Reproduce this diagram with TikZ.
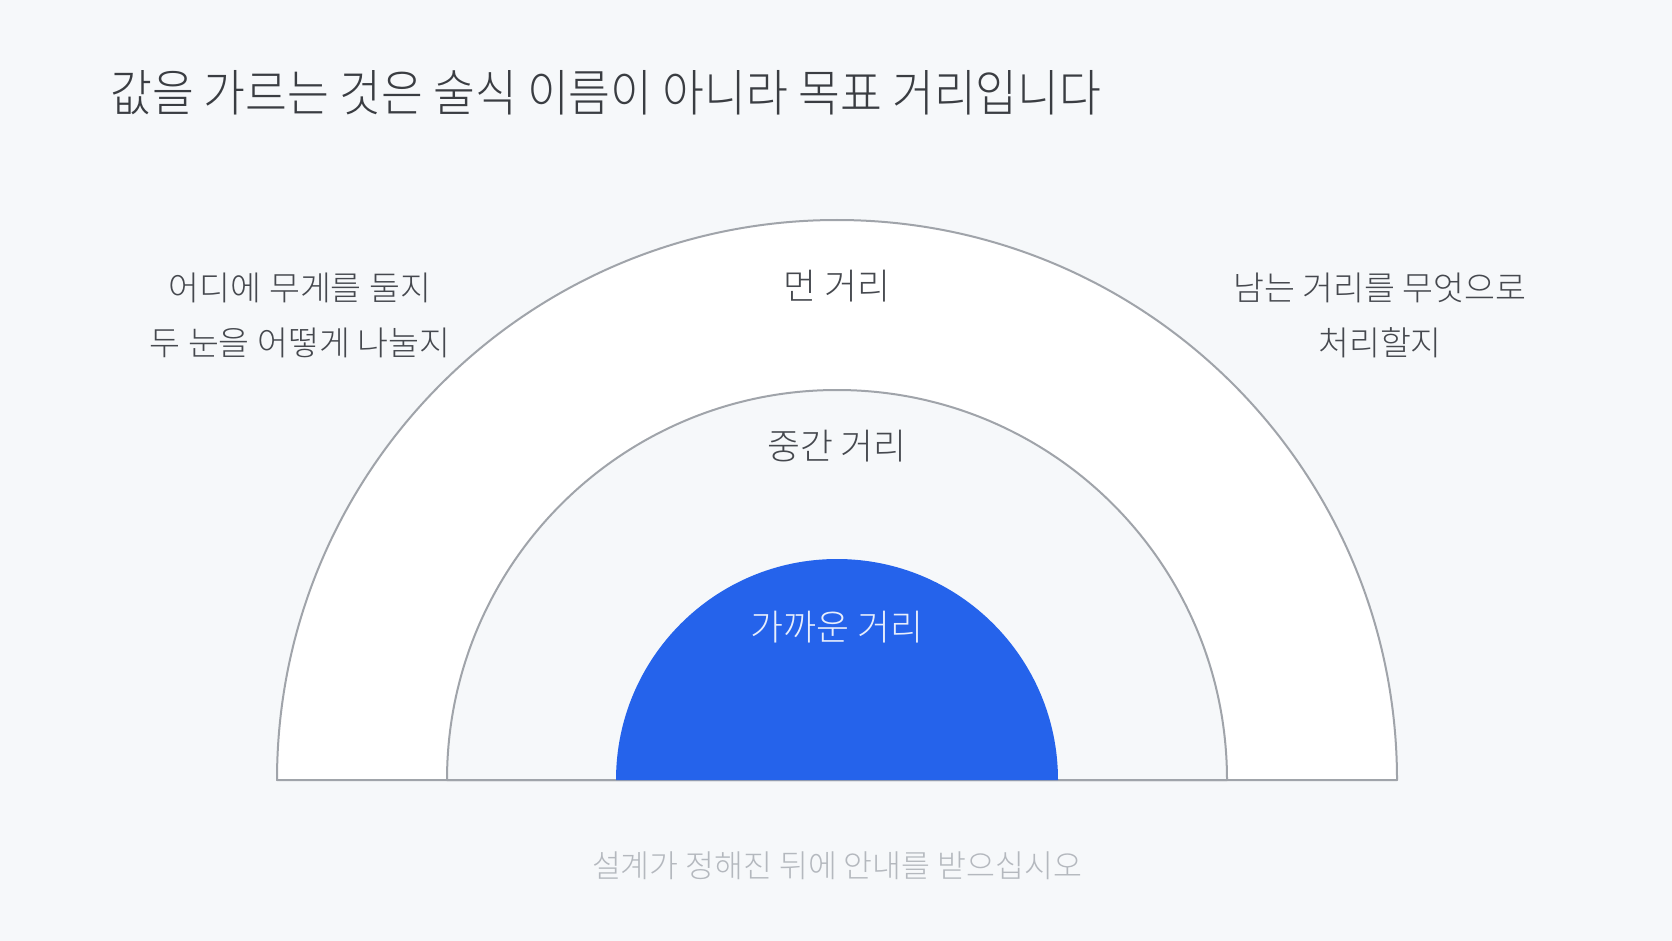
\documentclass[tikz,border=0pt]{standalone}
\usepackage{fontspec}
\newfontfamily\kr{Noto Sans CJK KR Light}
\newfontfamily\krt{Noto Sans CJK KR Light}[FakeStretch=0.91]
\definecolor{bgc}{HTML}{F6F8FA}
\definecolor{arcc}{HTML}{A0A4AA}
\definecolor{bluec}{HTML}{2563EB}
\definecolor{titlec}{HTML}{3A3D42}
\definecolor{labc}{HTML}{45484E}
\definecolor{notec}{HTML}{B4B8BE}
\definecolor{innerc}{HTML}{E8EEFC}
\begin{document}
\begin{tikzpicture}[x=1pt,y=-1pt,
  lab/.style={inner sep=0pt,anchor=center,text=labc,font=\kr\fontsize{33.6}{38}\selectfont},
  clab/.style={lab,font=\kr\fontsize{35.8}{40}\selectfont},
  band/.style={draw=arcc,line width=2pt,line join=round}]
\useasboundingbox (0,0) rectangle (1672,941);
\fill[bgc] (0,0) rectangle (1672,941);
\coordinate (c) at (837,780);
% outer band
\draw[band,fill=white] (277,780) arc[start angle=180,end angle=360,radius=560] -- cycle;
% middle band
\draw[band,fill=bgc] (447,780) arc[start angle=180,end angle=360,radius=390] -- cycle;
% inner
\fill[bluec] (616,780) arc[start angle=180,end angle=360,radius=221] -- cycle;
% texts
\node[inner sep=0pt,anchor=west,text=titlec,font=\krt\fontsize{50}{58}\selectfont] (title) at (110,93) {값을 가르는 것은 술식 이름이 아니라 목표 거리입니다};
\node[clab] (far) at (837,286) {먼 거리};
\node[clab] (mid) at (837,446) {중간 거리};
\node[clab,text=innerc] (near) at (837,627) {가까운 거리};
\node[lab] (l1) at (300,288) {어디에 무게를 둘지};
\node[lab] (l2) at (300,343) {두 눈을 어떻게 나눌지};
\node[lab] (r1) at (1380,288) {남는 거리를 무엇으로};
\node[lab] (r2) at (1380,343) {처리할지};
\node[lab,text=notec,font=\kr\fontsize{31.4}{36}\selectfont] (note) at (837,866) {설계가 정해진 뒤에 안내를 받으십시오};
\end{tikzpicture}
\end{document}
